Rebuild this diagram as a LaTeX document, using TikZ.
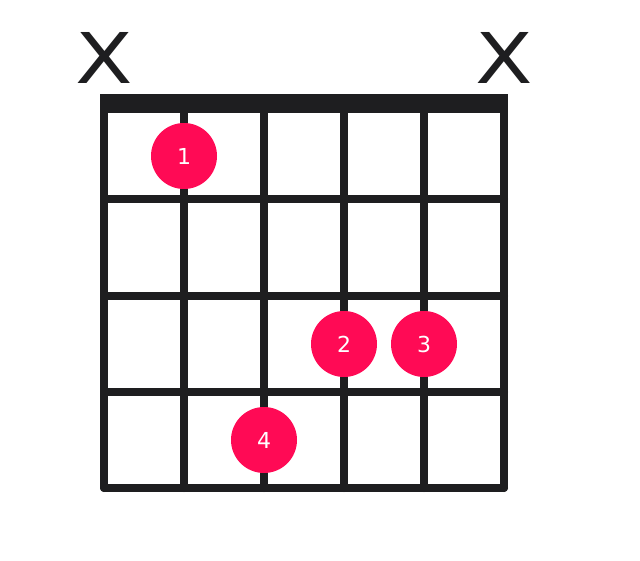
\documentclass[tikz,border=0pt]{standalone}
\usepackage{fontspec}
\setmainfont{DejaVu Sans}
\usetikzlibrary{positioning}
\definecolor{gridblack}{HTML}{1E1E20}
\definecolor{dotred}{HTML}{FF0A55}

\begin{document}
\begin{tikzpicture}[x=1pt, y=-1pt,
    gridline/.style={draw=gridblack, line width=8pt, line cap=round, line join=round},
    finger/.style={circle, fill=dotred, minimum size=66pt, inner sep=0pt, text=white, font=\fontsize{22}{22}\selectfont},
    mute/.style={inner sep=0pt, text=gridblack, font=\fontsize{70}{70}\selectfont}]
\useasboundingbox (0,0) rectangle (640,560);
% strings
\draw[gridline] (104,104) -- (104,488);
\draw[gridline] (184,104) -- (184,488);
\draw[gridline] (264,104) -- (264,488);
\draw[gridline] (344,104) -- (344,488);
\draw[gridline] (424,104) -- (424,488);
\draw[gridline] (504,104) -- (504,488);
% frets
\draw[gridline] (104,199) -- (504,199);
\draw[gridline] (104,296) -- (504,296);
\draw[gridline] (104,392) -- (504,392);
\draw[gridline] (104,488) -- (504,488);
% nut
\fill[gridblack] (100,94) rectangle (508,113);
% muted strings
\node[mute] (mutelow) at (104,58) {\scalebox{1.2}[1]{X}};
\node[mute] (mutehigh) at (504,58) {\scalebox{1.2}[1]{X}};
% fingers
\node[finger] (f1) at (184,156) {\raisebox{-3pt}{1}};
\node[finger] (f2) at (344,344) {\raisebox{-3pt}{2}};
\node[finger] (f3) at (424,344) {\raisebox{-3pt}{3}};
\node[finger] (f4) at (264,440) {\raisebox{-3pt}{4}};
\end{tikzpicture}
\end{document}
